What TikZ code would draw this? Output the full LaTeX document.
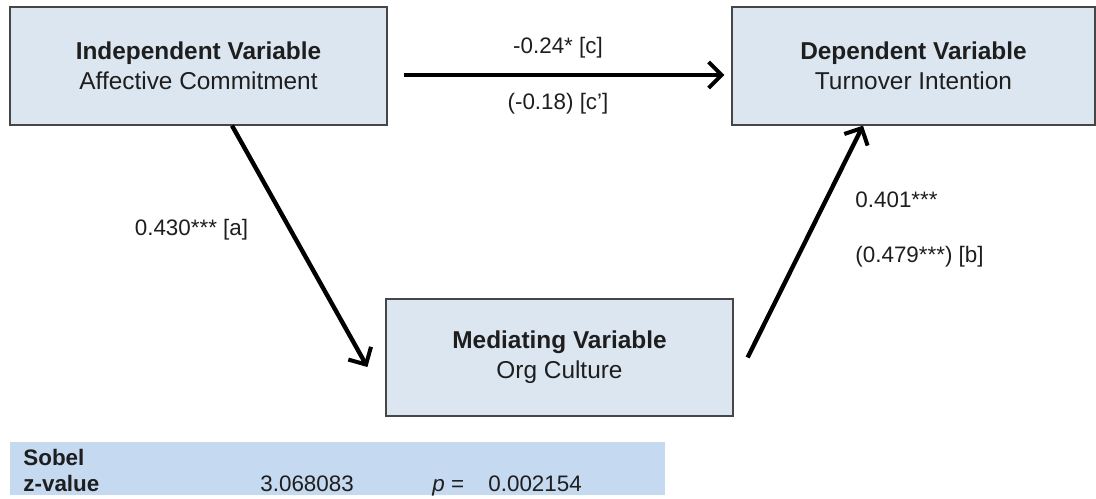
\documentclass[tikz,border=0pt]{standalone}
\usepackage{fontspec}
\setmainfont{Liberation Sans}
\usetikzlibrary{arrows.meta}
\definecolor{boxblue}{RGB}{220,230,241}
\definecolor{sobelblue}{RGB}{197,217,241}
\definecolor{boxline}{RGB}{70,70,70}
\definecolor{txt}{RGB}{30,30,30}
\begin{document}
\begin{tikzpicture}[x=0.5pt, y=-0.5pt, node distance=357.5pt, auto,
    var/.style={draw=boxline, line width=0.6pt, fill=boxblue, align=center,
      minimum height=59pt, text=txt, font=\fontsize{12.2}{15}\selectfont},
    path/.style={line width=2.2pt, -{Straight Barb[length=6.5pt, width=13pt, line width=2pt]}},
    lbl/.style={text=txt, font=\fontsize{11.2}{13}\selectfont, inner sep=0pt}]
  \useasboundingbox (0,0) rectangle (1096,498);
  \node (iv) [var, minimum width=188.5pt] at (198.5,66)
    {\textbf{Independent Variable}\\Affective Commitment};
  \node (dv) [var, minimum width=181.5pt, right of=iv]
    {\textbf{Dependent Variable}\\Turnover Intention};
  \node (mv) [var, minimum width=173.5pt, minimum height=58.5pt] at (559.5,357.5)
    {\textbf{Mediating Variable}\\Org Culture};
  \draw[path, line width=1.8pt] ([xshift=8pt, yshift=-4.5pt]iv.east) to
    node[lbl, midway, xshift=-3pt, yshift=7.5pt] {-0.24* [c]}
    node[lbl, midway, xshift=-3pt, yshift=-20.5pt] {(-0.18) [c']}
    ([xshift=-3.5pt, yshift=-4.5pt]dv.west);
  \draw[path] ([xshift=16.75pt]iv.south) to ([xshift=-9pt, yshift=-4.75pt]mv.west);
  \draw[path] ([xshift=7pt]mv.east) to ([xshift=-25.25pt]dv.south);
  \node (laba) [lbl] at (191.5,230) {0.430*** [a]};
  \node (labb) [lbl, anchor=west] at (855,200) {0.401***};
  \node (labbb) [lbl, anchor=west] at (855,257) {(0.479***) [b]};
  % Sobel test
  \node (sobel) [fill=sobelblue, anchor=north west, minimum width=327.5pt,
    minimum height=26.5pt, inner sep=0pt] at (10,442) {};
  \node (sobhead) [lbl, anchor=base west] at (23,465) {\textbf{Sobel}};
  \node (zlab) [lbl, anchor=base west] at (23,491) {\textbf{z-value}};
  \node (zval) [lbl, anchor=base west] at (260,491) {3.068083};
  \node (plab) [lbl, anchor=base west] at (432,491) {\textit{p} =};
  \node (pval) [lbl, anchor=base west] at (488,491) {0.002154};
\end{tikzpicture}
\end{document}
